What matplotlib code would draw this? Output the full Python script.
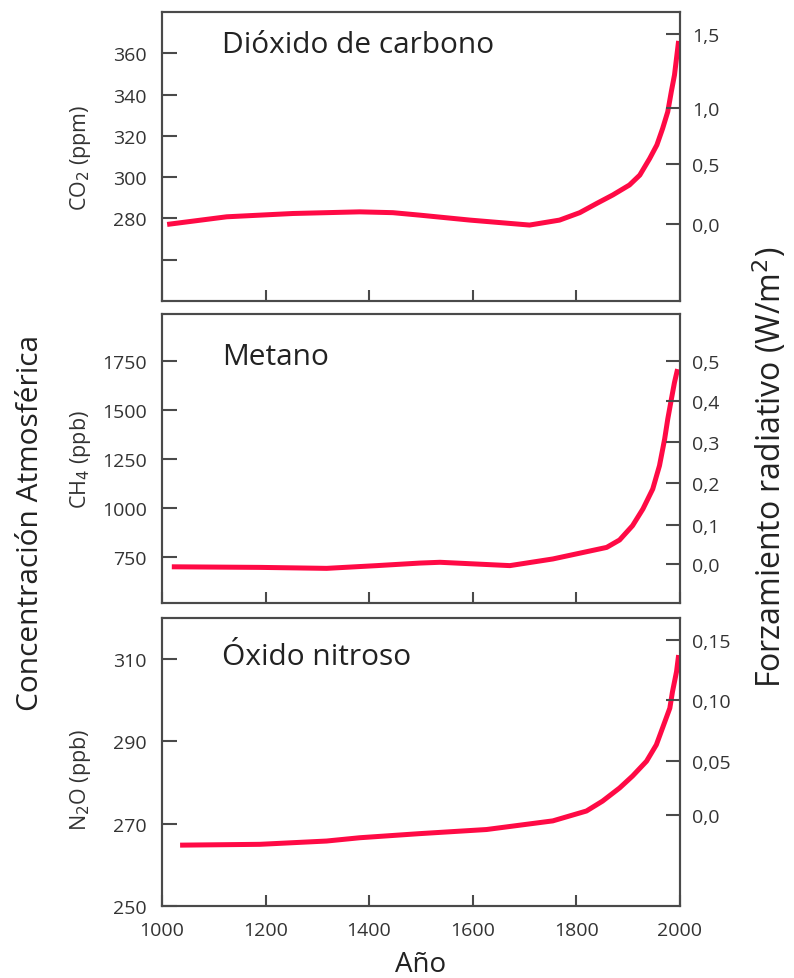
import matplotlib
matplotlib.use("Agg")
import matplotlib.pyplot as plt

plt.rcParams['font.family'] = ['Open Sans', 'DejaVu Sans']

# datos
anios_co2 = [1010, 1125, 1253, 1382, 1446, 1498, 1595, 1710, 1768, 1807, 1840, 1871, 1903,
             1923, 1942, 1956, 1967, 1977, 1984, 1990, 1998]
co2 = [277.1, 280.8, 282.4, 283.2, 282.8, 281.6, 279.2, 276.8, 279.2, 282.8, 287.3, 291.4, 296.2,
       301.0, 309.0, 315.6, 323.5, 331.7, 341.6, 349.5, 366.0]

anios_ch4 = [1019, 1189, 1318, 1415, 1498, 1537, 1672, 1755, 1859, 1884, 1909, 1929, 1948,
             1961, 1971, 1977, 1984, 1990, 1996]
ch4 = [700, 697, 692, 706, 719, 723, 706, 740, 799, 837, 910, 995, 1097,
       1216, 1352, 1454, 1556, 1641, 1709]

anios_n2o = [1035, 1189, 1318, 1382, 1498, 1627, 1755, 1820, 1851, 1884, 1909, 1936, 1955,
             1967, 1981, 1986, 1994, 1998]
n2o = [264.8, 265.0, 265.8, 266.6, 267.6, 268.6, 270.7, 273.1, 275.5, 278.7, 281.6, 285.2, 289.2,
       293.3, 298.1, 302.0, 307.0, 311.0]

titulos = ['Dióxido de carbono', 'Metano', 'Óxido nitroso']
etiquetas_y = ['CO$_2$ (ppm)', 'CH$_4$ (ppb)', 'N$_2$O (ppb)']

# eje izquierdo
ticks_izq = [[260, 280, 300, 320, 340, 360],
             [750, 1000, 1250, 1500, 1750],
             [250, 270, 290, 310]]
etiq_izq = [['', '280', '300', '320', '340', '360'],
            ['750', '1000', '1250', '1500', '1750'],
            ['250', '270', '290', '310']]
limites = [(240, 380), (515, 1990), (250, 320)]

# eje derecho (forzamiento radiativo), posiciones en unidades de concentracion
ticks_der = [[277.1, 333.7, 306.3, 369.2],
             [714, 913, 1128, 1337, 1546, 1750],
             [272.2, 285.3, 300.1, 314.7]]
etiq_der = [['0,0', '1,0', '0,5', '1,5'],
            ['0,0', '0,1', '0,2', '0,3', '0,4', '0,5'],
            ['0,0', '0,05', '0,10', '0,15']]

anios_ticks = [1000, 1200, 1400, 1600, 1800, 2000]

series = [(anios_co2, co2), (anios_ch4, ch4), (anios_n2o, n2o)]

fig = plt.figure(figsize=(7.94, 9.79), dpi=100)
posiciones = [[0.204, 0.6915, 0.652, 0.2952],
              [0.204, 0.3830, 0.652, 0.2952],
              [0.204, 0.0735, 0.652, 0.2942]]
base_titulo = [0.862, 0.827, 0.840]
label_y = [0.5, 0.5, 0.44]
gris = '#4a4a4a'
rojo = '#ff0a45'

for i in range(3):
    ax = fig.add_axes(posiciones[i])
    x, y = series[i]
    ax.plot(x, y, color=rojo, linewidth=3.6, solid_capstyle='butt', solid_joinstyle='round')
    ax.set_xlim(1000, 2000)
    ax.set_ylim(limites[i])
    for s in ax.spines.values():
        s.set_color(gris)
        s.set_linewidth(1.5)
    ax.set_yticks(ticks_izq[i])
    ax.set_yticklabels(etiq_izq[i])
    ax.tick_params(axis='y', direction='in', length=11, width=1.5, color=gris, pad=11,
                   labelsize=14, labelcolor='#333333')
    ax.set_xticks(anios_ticks)
    ax.tick_params(axis='x', direction='in', length=8, width=1.5, color=gris, pad=11,
                   labelsize=14, labelcolor='#333333')
    if i < 2:
        ax.set_xticklabels([])
    ax.text(0.116, base_titulo[i], titulos[i], transform=ax.transAxes, fontsize=21.5,
            va='baseline', ha='left', color='#222222')
    ax.text(-0.158, label_y[i], etiquetas_y[i], transform=ax.transAxes, rotation=90,
            fontsize=15.5, ha='center', va='center', color='#333333')

    ax2 = ax.twinx()
    ax2.set_ylim(limites[i])
    ax2.set_yticks(ticks_der[i])
    ax2.set_yticklabels(etiq_der[i])
    ax2.tick_params(axis='y', direction='in', length=10, width=1.5, color=gris, pad=9,
                    labelsize=14, labelcolor='#333333')
    for s in ax2.spines.values():
        s.set_color(gris)
        s.set_linewidth(1.5)
    if i == 2:
        ax.set_xlabel('Año', fontsize=20, labelpad=8, color='#222222')

fig.text(0.038, 0.466, 'Concentración Atmosférica', rotation=90, fontsize=21.5,
         ha='center', va='center', color='#222222')
fig.text(0.970, 0.523, 'Forzamiento radiativo (W/m$^2$)', rotation=90, fontsize=23,
         ha='center', va='center', color='#222222')

fig.savefig('out.png', dpi=100)
